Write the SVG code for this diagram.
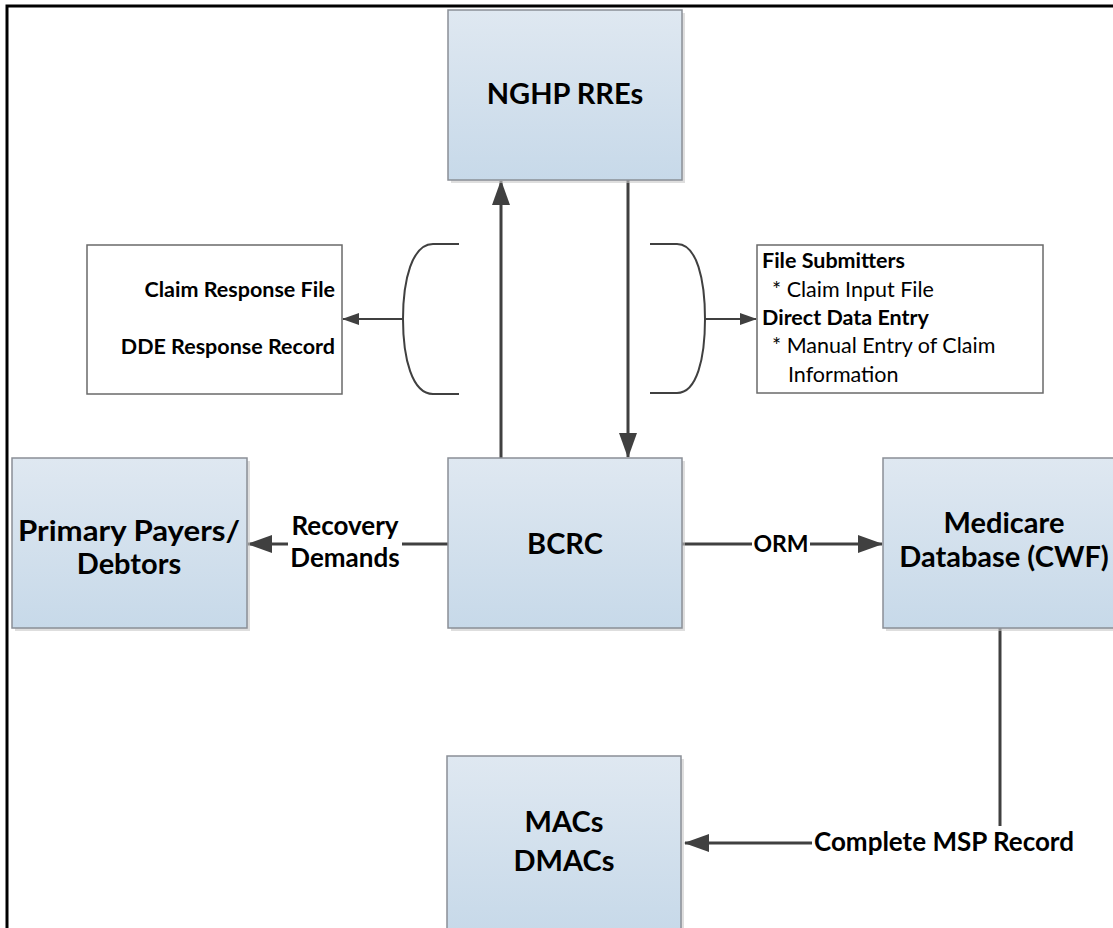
<svg xmlns="http://www.w3.org/2000/svg" width="1113" height="928" viewBox="0 0 1113 928">
<style>
.box{fill:url(#g);stroke:#8a8f96;stroke-width:1.5}
.sh{fill:#c8c8c8;opacity:.6}
.big{font-family:Lato,"Liberation Sans",sans-serif;font-weight:bold;font-size:29px;fill:#000;text-anchor:middle}
.lbl{font-family:Lato,"Liberation Sans",sans-serif;font-weight:bold;font-size:26px;fill:#000;text-anchor:middle}
.sm{font-family:Lato,"Liberation Sans",sans-serif;font-size:21.5px;fill:#000}
.smb{font-family:Lato,"Liberation Sans",sans-serif;font-size:21.5px;font-weight:bold;fill:#000}
.tb{fill:#fff;stroke:#6a6a6a;stroke-width:1.5}
.c{fill:none;stroke:#404040;stroke-width:3}
.ct{fill:none;stroke:#404040;stroke-width:2}
</style>
<defs>
<linearGradient id="g" x1="0" y1="0" x2="0" y2="1">
<stop offset="0" stop-color="#dfe8f1"/>
<stop offset="1" stop-color="#c7d9e9"/>
</linearGradient>
<marker id="a" markerUnits="userSpaceOnUse" markerWidth="26" markerHeight="18" refX="24" refY="9" orient="auto">
<path d="M0,0 L25,9 L0,18 Z" fill="#404040"/>
</marker>
<marker id="s" markerUnits="userSpaceOnUse" markerWidth="18" markerHeight="12" refX="16" refY="6" orient="auto">
<path d="M0,0 L17,6 L0,12 Z" fill="#404040"/>
</marker>
</defs>
<rect width="1113" height="928" fill="#fff"/>
<path d="M7,928 L7,6 L1113,6" fill="none" stroke="#000" stroke-width="3"/>

<g id="connectors">
<line class="c" x1="501" y1="458" x2="501" y2="181" marker-end="url(#a)"/>
<line class="c" x1="628" y1="180" x2="628" y2="457" marker-end="url(#a)"/>
<line class="c" x1="448" y1="544" x2="248" y2="544" marker-end="url(#a)"/>
<line class="c" x1="682" y1="544" x2="882" y2="544" marker-end="url(#a)"/>
<path class="c" d="M1000,628 L1000,843 L685,843" marker-end="url(#a)"/>
<path class="ct" d="M459,244 L433,244 C412,244 403,280 403,319 C403,358 412,394 433,394 L459,394"/>
<line class="ct" x1="403" y1="319" x2="343" y2="319" marker-end="url(#s)"/>
<path class="ct" d="M650,244 L677,244 C697,244 705,280 705,319 C705,358 697,393 677,393 L650,393"/>
<line class="ct" x1="705" y1="319" x2="756" y2="319" marker-end="url(#s)"/>
<rect x="288" y="512" width="114" height="64" fill="#fff"/>
<text class="lbl" x="345" y="535">Recovery</text>
<text class="lbl" x="345" y="567">Demands</text>
<rect x="752" y="530" width="58" height="28" fill="#fff"/>
<text class="lbl" x="781" y="552" style="font-size:23px">ORM</text>
<rect x="812" y="826" width="264" height="32" fill="#fff"/>
<text class="lbl" x="944" y="851">Complete MSP Record</text>
</g>

<g id="nghp">
<rect class="sh" x="451" y="13" width="234" height="170"/>
<rect class="box" x="448" y="10" width="234" height="170"/>
<text class="big" x="565" y="104">NGHP RREs</text>
</g>

<g id="bcrc">
<rect class="sh" x="451" y="461" width="234" height="170"/>
<rect class="box" x="448" y="458" width="234" height="170"/>
<text class="big" x="565" y="554">BCRC</text>
</g>

<g id="payers">
<rect class="sh" x="15" y="461" width="235" height="170"/>
<rect class="box" x="12" y="458" width="235" height="170"/>
<text class="big" x="129" y="541" textLength="222" lengthAdjust="spacingAndGlyphs">Primary Payers/</text>
<text class="big" x="129" y="574">Debtors</text>
</g>

<g id="medicare">
<rect class="sh" x="886" y="461" width="234" height="170"/>
<rect class="box" x="883" y="458" width="234" height="170"/>
<text class="big" x="1004" y="533">Medicare</text>
<text class="big" x="1004" y="567">Database (CWF)</text>
</g>

<g id="macs">
<rect class="sh" x="450" y="759" width="234" height="175"/>
<rect class="box" x="447" y="756" width="234" height="175"/>
<text class="big" x="564" y="832">MACs</text>
<text class="big" x="564" y="871">DMACs</text>
</g>

<g id="response">
<rect class="tb" x="87" y="245" width="255" height="149"/>
<text class="smb" x="335" y="297" text-anchor="end">Claim Response File</text>
<text class="smb" x="335" y="354" text-anchor="end">DDE Response Record</text>
</g>

<g id="input">
<rect class="tb" x="757" y="245" width="286" height="148"/>
<text class="smb" x="762" y="268">File Submitters</text>
<text class="sm" x="772" y="297">* Claim Input File</text>
<text class="smb" x="762" y="325">Direct Data Entry</text>
<text class="sm" x="772" y="353">* Manual Entry of Claim</text>
<text class="sm" x="788" y="382">Information</text>
</g>
</svg>
